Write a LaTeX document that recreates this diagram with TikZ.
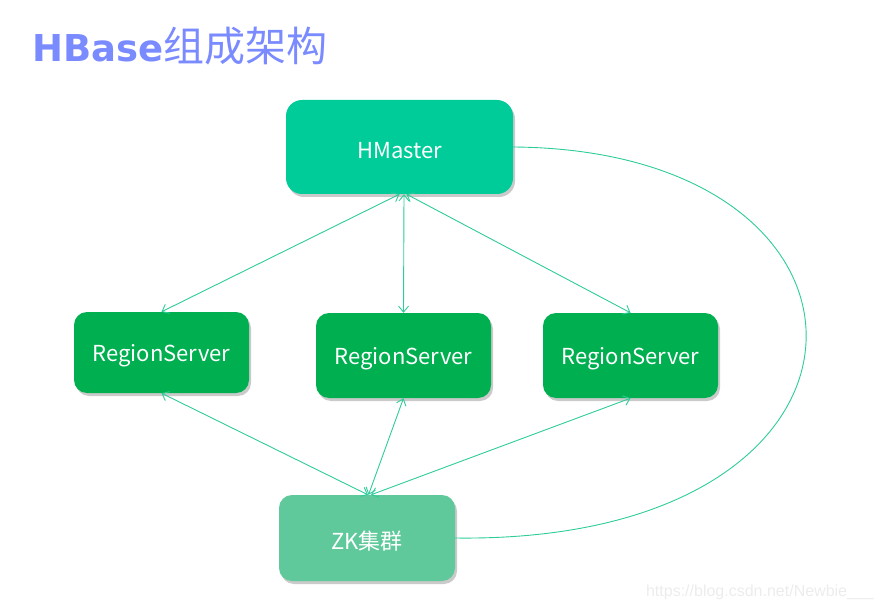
\documentclass[tikz,border=0pt]{standalone}
\usepackage{fontspec}
\usetikzlibrary{arrows.meta,shadows}
\newfontfamily\cjkf{Noto Sans CJK SC}
\newfontfamily\titlef{DejaVu Sans}
\newfontfamily\wmf{Liberation Sans}
\definecolor{hmcol}{RGB}{0,204,153}
\definecolor{rscol}{RGB}{0,176,80}
\definecolor{zkcol}{RGB}{95,201,155}
\definecolor{linecol}{RGB}{46,204,153}
\definecolor{titlecol}{RGB}{122,138,255}
\definecolor{wmcol}{RGB}{236,236,236}
\newcommand{\lowtxt}[1]{\raisebox{-3.5pt}[\height][\depth]{#1}}
\tikzset{
  box/.style={rounded corners=13pt, text=white, inner sep=0pt,
    font=\cjkf\fontsize{22}{22}\selectfont,
    drop shadow={shadow xshift=2pt, shadow yshift=-3pt, opacity=0.35, fill=black!60}},
  conn/.style={draw=linecol, line width=0.9pt, {Straight Barb[length=6pt,width=10pt]}-{Straight Barb[length=6pt,width=10pt]}},
  curveline/.style={draw=linecol, line width=0.9pt}
}
\begin{document}
\begin{tikzpicture}[x=1pt,y=-1pt]
\useasboundingbox (0,0) rectangle (884,607);
\node[anchor=base west, inner sep=0pt, text=titlecol] (title) at (32,62)
  {{\titlef\bfseries\fontsize{37}{37}\selectfont HBase}{\cjkf\fontsize{41}{41}\selectfont 组成架构}};
\node[box, fill=hmcol, minimum width=227pt, minimum height=94pt, rounded corners=16pt] (hm) at (399.5,147) {\lowtxt{HMaster}};
\node[box, fill=rscol, minimum width=175pt, minimum height=81pt] (rs1) at (161.5,352.5) {\lowtxt{RegionServer}};
\node[box, fill=rscol, minimum width=175pt, minimum height=85pt] (rs2) at (403.5,355.5) {\lowtxt{RegionServer}};
\node[box, fill=rscol, minimum width=175pt, minimum height=85pt] (rs3) at (630.5,355.5) {\lowtxt{RegionServer}};
\node[box, fill=zkcol, minimum width=176pt, minimum height=86pt] (zk) at (367,538) {\lowtxt{ZK集群}};
\draw[conn] (hm.south) -- (rs1.north);
\draw[conn] ([xshift=4.5pt]hm.south) -- (rs2.north);
\draw[conn] ([xshift=7pt]hm.south) -- (rs3.north);
\draw[conn] (rs1.south) -- ([xshift=1pt]zk.north);
\draw[conn] (rs2.south) -- ([xshift=1.5pt]zk.north);
\draw[conn] (rs3.south) -- ([xshift=4pt]zk.north);
\draw[curveline] (hm.east) .. controls (913,150) and (913,544) .. (zk.east);
\node[anchor=base east, inner sep=0pt, text=wmcol, font=\wmf\fontsize{16}{16}\selectfont] (wm) at (874,596) {https://blog.csdn.net/Newbie\_\_\_};
\end{tikzpicture}
\end{document}
